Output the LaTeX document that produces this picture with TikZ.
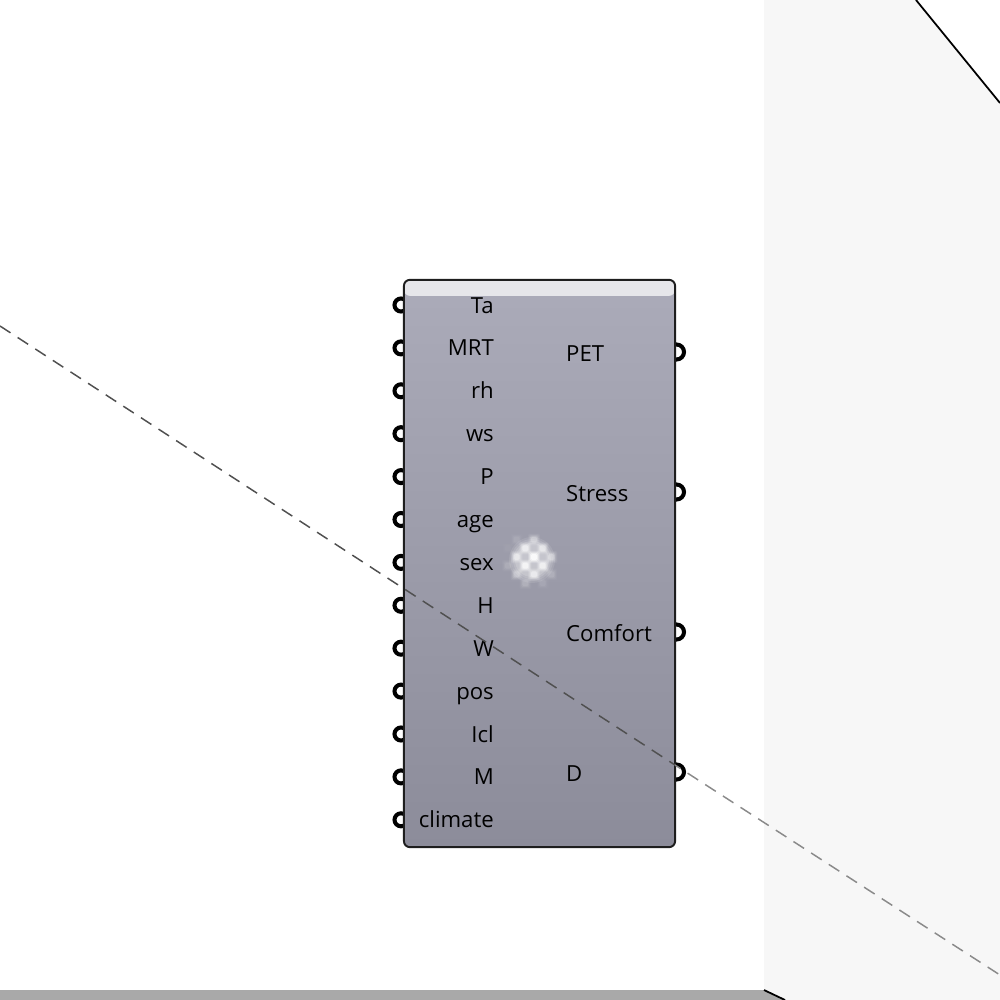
\documentclass[tikz,border=0pt]{standalone}
\usepackage{xcolor}
\usepackage{fontspec}
\setmainfont{Open Sans}
\usetikzlibrary{positioning,calc}
\definecolor{ink}{HTML}{1E1E1E}
\definecolor{panel}{HTML}{F7F7F7}
\definecolor{band}{HTML}{A9A9A9}
\definecolor{bodytop}{HTML}{ABABB9}
\definecolor{bodybot}{HTML}{8C8C9A}
\definecolor{shinetop}{HTML}{E6E6EA}
\definecolor{shinebot}{HTML}{D4D5DB}
\definecolor{dashdark}{HTML}{505050}
\definecolor{dashpale}{HTML}{8A8A8A}

\begin{document}
\begin{tikzpicture}[
  x=0.01cm,y=-0.01cm,
  comp/.style={draw=ink,line width=0.55pt,rounded corners=1.7pt,top color=bodytop,bottom color=bodybot,minimum width=2.71cm,minimum height=5.67cm,inner sep=0pt,
    path picture={\shade[top color=shinetop,bottom color=shinebot] (path picture bounding box.north west) rectangle ([yshift=-0.16cm]path picture bounding box.north east);}},
  lbl/.style={font=\fontsize{6.3}{7}\selectfont,text=black,inner sep=0pt},
  inlbl/.style={lbl,anchor=base east},
  outlbl/.style={lbl,anchor=base west},
  inport/.style={circle,draw=black,line width=1.15pt,minimum size=0.13cm,inner sep=0pt,fill=white},
  outport/.style={circle,draw=black,line width=1.15pt,minimum size=0.15cm,inner sep=0pt,fill=white},
  edgeline/.style={draw=black,line width=0.5pt},
  guide/.style={line width=0.42pt,dash pattern=on 0.125cm off 0.085cm}
]
\useasboundingbox (0,0) rectangle (1000,1000);
% backdrop
\fill[panel] (764,0) -- (916,0) -- (1000,103) -- (1000,1000) -- (764,1000) -- cycle;
\fill[band] (0,990) -- (764,990) -- (785,1000) -- (0,1000) -- cycle;
\coordinate (ea) at (916,0);
\coordinate (eb) at (1000,103);
\coordinate (ec) at (764,990);
\coordinate (ed) at (785,1000);
\draw[edgeline] (ea) -- (eb);
\draw[edgeline] (ec) -- (ed);
% ports go under the component
\foreach \i in {0,...,12}{
  \node[inport] (ip\i) at (401,{305+42.9*\i}) {};
}
\foreach \i in {0,...,3}{
  \node[outport] (op\i) at (676.5,{352+140*\i}) {};
}
\node[comp] (comp) at (539.5,563.5) {};
% inputs
\foreach \i/\t in {0/Ta,1/MRT,2/rh,3/ws,4/P,5/age,6/sex,7/H,8/W,9/pos,10/Icl,11/M,12/climate}{
  \node[inlbl] (in\i) at (494.5,{313+42.9*\i}) {\t};
}
% outputs
\foreach \i/\t in {0/PET,1/Stress,2/Comfort,3/D}{
  \node[outlbl] (out\i) at (565.5,{361+140*\i}) {\t};
}
% blurred checker icon
\foreach \r/\o in {23/0.10,21/0.12,19/0.14,17/0.16}{
  \fill[white,opacity=\o] (532,560) circle (\r);
}
\foreach \i in {-3,...,3}{
  \foreach \j in {-3,...,3}{
    \pgfmathsetmacro{\xx}{534+8.7*\i}
    \pgfmathsetmacro{\yy}{557+8.7*\j}
    \pgfmathsetmacro{\dd}{sqrt((\xx-532)^2+(\yy-560)^2)}
    \pgfmathsetmacro{\oo}{max(0,min(1,1.15-\dd/24))}
    \pgfmathparse{int(mod(\i+\j+6,2))}
    \ifnum\pgfmathresult=0
      \foreach \s/\f in {6/0.2,5/0.3,4/0.5,3/0.7}{
        \pgfmathsetmacro{\op}{\oo*\f}
        \fill[white,opacity=\op,rounded corners=0.4pt] (\xx-\s,\yy-\s) rectangle (\xx+\s,\yy+\s);
      }
    \fi
  }
}
% guide line
\coordinate (ga) at (0,326);
\coordinate (gb) at (402,588);
\coordinate (gc) at (675,765);
\coordinate (gd) at (1000,975);
\draw[guide,dashdark] (ga) -- (gc);
\draw[guide,dashpale,dash phase=0.06cm] (gc) -- (gd);
\end{tikzpicture}
\end{document}
